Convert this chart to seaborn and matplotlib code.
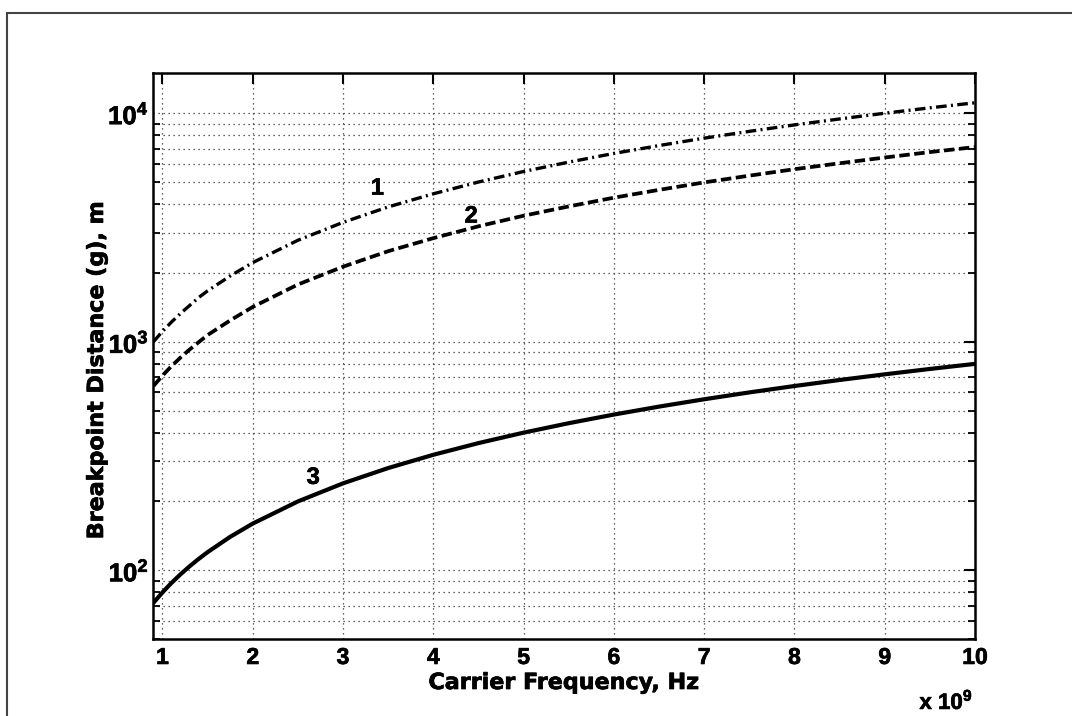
import numpy as np
import pandas as pd
import matplotlib
matplotlib.use("Agg")
import matplotlib.pyplot as plt
import matplotlib.patheffects as pe
from matplotlib.patches import Rectangle
from matplotlib.ticker import LogLocator, NullFormatter
import seaborn as sns

# ---- data ----
freq_ghz = [0.9, 1.0, 1.1, 1.2, 1.3, 1.4, 1.5, 1.75, 2.0, 2.5, 3.0, 3.5, 4.0, 4.5,
            5.0, 5.5, 6.0, 6.5, 7.0, 7.5, 8.0, 8.5, 9.0, 9.5, 10.0]
dist_1 = [1000, 1110, 1220, 1330, 1440, 1560, 1670, 1940, 2220, 2780, 3330, 3890,
          4440, 5000, 5560, 6110, 6670, 7220, 7780, 8330, 8890, 9440, 10000, 10560, 11110]
dist_2 = [640, 711, 782, 853, 924, 995, 1070, 1240, 1420, 1780, 2130, 2490,
          2840, 3200, 3560, 3910, 4270, 4620, 4980, 5330, 5690, 6040, 6400, 6760, 7110]
dist_3 = [72, 80, 88, 96, 104, 112, 120, 140, 160, 200, 240, 280,
          320, 360, 400, 440, 480, 520, 560, 600, 640, 680, 720, 760, 800]

curve_labels = ["1", "2", "3"]
label_x = [3.38, 4.42, 2.67]
label_y = [4700, 3550, 255]

x_ticks = [1, 2, 3, 4, 5, 6, 7, 8, 9, 10]
x_ticklabels = ["1", "2", "3", "4", "5", "6", "7", "8", "9", "10"]
y_ticks = [100, 1000, 10000]
y_ticklabels = [r"$10^{2}$", r"$10^{3}$", r"$10^{4}$"]

x_label = "Carrier Frequency, Hz"
y_label = "Breakpoint Distance (g), m"
x_exponent = r"x $10^{9}$"

# ---- style ----
sns.set_style("white")
plt.rcParams["font.family"] = ["Liberation Sans", "DejaVu Sans"]
plt.rcParams["font.weight"] = "bold"
plt.rcParams["mathtext.fontset"] = "custom"
plt.rcParams["mathtext.rm"] = "Liberation Sans:bold"
plt.rcParams["mathtext.it"] = "Liberation Sans:bold"
plt.rcParams["mathtext.bf"] = "Liberation Sans:bold"
for key in ["text.color", "axes.labelcolor", "xtick.color", "ytick.color", "axes.edgecolor"]:
    plt.rcParams[key] = "black"

heavy = [pe.withStroke(linewidth=0.5, foreground="black")]

fig = plt.figure(figsize=(10.72, 7.16), dpi=100)
fig.patch.set_facecolor("white")
ax = fig.add_axes([153 / 1072, 1 - 639 / 716, (975 - 153) / 1072, (639 - 73) / 716])

df = pd.DataFrame({"f": freq_ghz, "d1": dist_1, "d2": dist_2, "d3": dist_3})
sns.lineplot(data=df, x="f", y="d1", ax=ax, color="black", lw=2.4,
             linestyle=(0, (3.2, 1.3, 0.6, 1.3)))
sns.lineplot(data=df, x="f", y="d2", ax=ax, color="black", lw=2.7,
             linestyle=(0, (2.8, 1.2)))
sns.lineplot(data=df, x="f", y="d3", ax=ax, color="black", lw=3.0, linestyle="-")

ax.set_yscale("log")
ax.set_xlim(0.895, 10)
ax.set_ylim(50, 15000)

ax.set_xticks(x_ticks, labels=x_ticklabels, fontsize=16.5, fontweight="bold", color="black")
ax.set_yticks(y_ticks, labels=y_ticklabels, fontsize=18.5, fontweight="bold", color="black")
ax.yaxis.set_minor_locator(LogLocator(base=10, subs=np.arange(2, 10)))
ax.yaxis.set_minor_formatter(NullFormatter())
for lab in ax.get_xticklabels() + ax.get_yticklabels():
    lab.set_path_effects(heavy)

ax.grid(True, which="major", axis="both", linestyle=(0, (1, 3)), color="#333333", lw=0.9)
ax.grid(True, which="minor", axis="y", linestyle=(0, (1, 3)), color="#333333", lw=0.9)

ax.tick_params(which="major", direction="in", length=8, width=1.5, top=True, right=True,
               color="black")
ax.tick_params(axis="x", which="major", pad=5)
ax.tick_params(axis="y", which="major", pad=3)
ax.tick_params(which="minor", direction="in", length=5, width=1.3, top=False, right=True,
               left=True, color="black")

for s in ax.spines.values():
    s.set_visible(True)
    s.set_linewidth(1.8)
    s.set_color("black")

lab_font = {"family": ["DejaVu Sans"], "weight": "bold", "size": 16, "color": "black"}
ax.set_xlabel(x_label, fontdict=lab_font)
ax.set_ylabel(y_label, fontdict=lab_font)
ax.xaxis.label.set_va("center")
ax.yaxis.label.set_va("center")
ax.xaxis.label.set_path_effects(heavy)
ax.yaxis.label.set_path_effects(heavy)
ax.xaxis.set_label_coords(0.5, -(683 - 639) / 566)
ax.yaxis.set_label_coords(-(153 - 97) / 822, (639 - 370) / 566)

for t, xv, yv in zip(curve_labels, label_x, label_y):
    ax.text(xv, yv, t, fontsize=17, fontweight="bold", ha="center", va="center",
            color="black", path_effects=heavy)

ax.annotate(x_exponent, xy=(973 / 1072, 1 - 701 / 716), xycoords="figure fraction",
            ha="right", va="center", fontsize=16, fontweight="bold", color="black",
            path_effects=heavy)

fig.patches.append(Rectangle((7 / 1072, -0.2), 1.3, 1.2 - 13 / 716,
                             transform=fig.transFigure, fill=False,
                             edgecolor="#444444", lw=1.5, zorder=-1))

fig.savefig("out.png", dpi=100)
